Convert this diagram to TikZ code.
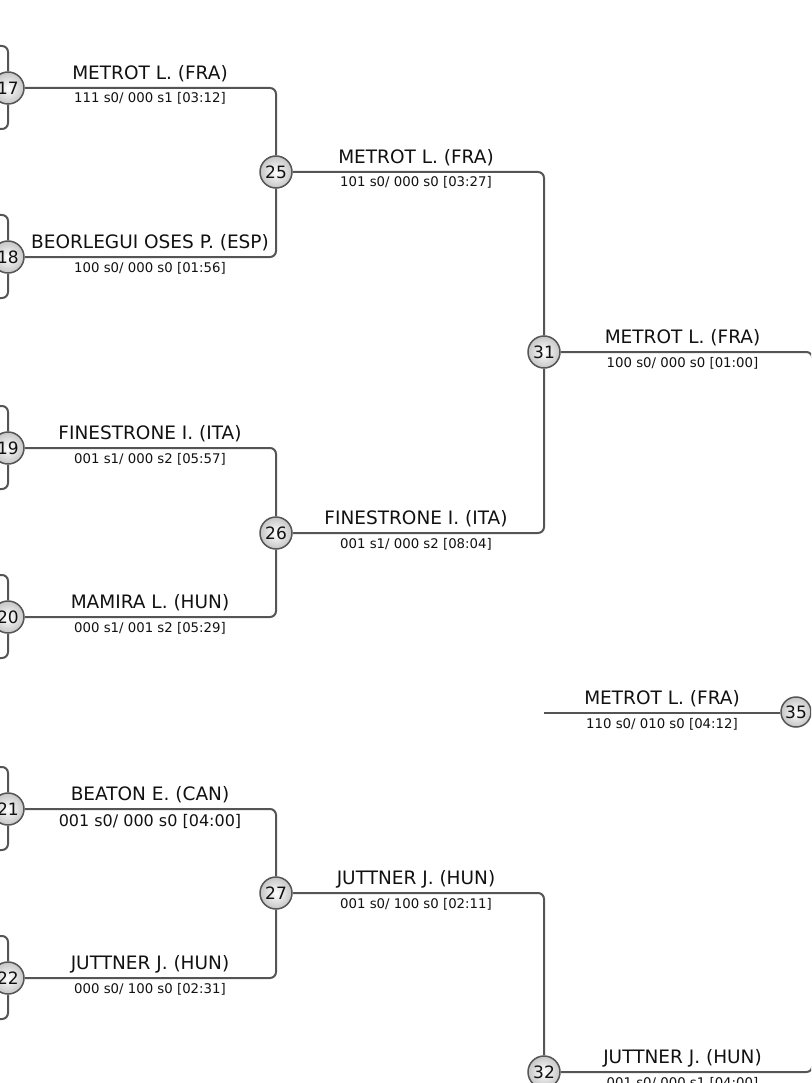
\documentclass[tikz,border=0pt]{standalone}
\usepackage{fontspec}
\setmainfont{DejaVu Sans}
\definecolor{linec}{HTML}{555555}
\definecolor{txt}{HTML}{111111}
\tikzset{
  ln/.style={draw=linec, line width=2pt, rounded corners=6pt},
  mnode/.style={circle, draw=linec, line width=1.5pt, inner sep=0pt, minimum size=32pt,
    inner color=white, outer color=gray!45, font=\fontsize{17}{17}\selectfont, text=txt},
  pname/.style={anchor=base, inner sep=0pt, font=\fontsize{18.5}{18.5}\selectfont, text=txt},
  pscore/.style={anchor=base, inner sep=0pt, font=\fontsize{13.3}{13.3}\selectfont, text=txt},
  pscorebig/.style={pscore, font=\fontsize{16}{16}\selectfont},
}
\begin{document}
\begin{tikzpicture}[x=1pt,y=-1pt]
\clip (0,0) rectangle (811,1083);

% match circles
\node[mnode] (m17) at (8,88) {17};
\node[mnode] (m18) at (8,257) {18};
\node[mnode] (m19) at (8,448) {19};
\node[mnode] (m20) at (8,617) {20};
\node[mnode] (m21) at (8,809) {21};
\node[mnode] (m22) at (8,978) {22};
\node[mnode] (m25) at (276,172) {25};
\node[mnode] (m26) at (276,533) {26};
\node[mnode] (m27) at (276,893) {27};
\node[mnode] (m31) at (544,352) {31};
\node[mnode] (m32) at (544,1072) {32};
\node[mnode, minimum size=30pt] (m35) at (796,712) {35};

% incoming stubs from the left
\coordinate (a17) at (-30,46);  \coordinate (b17) at (-30,129);
\coordinate (a18) at (-30,215); \coordinate (b18) at (-30,298);
\coordinate (a19) at (-30,406); \coordinate (b19) at (-30,489);
\coordinate (a20) at (-30,575); \coordinate (b20) at (-30,658);
\coordinate (a21) at (-30,767); \coordinate (b21) at (-30,850);
\coordinate (a22) at (-30,936); \coordinate (b22) at (-30,1019);
\foreach \m in {17,18,19,20,21,22}{
  \draw[ln] (a\m) -| (m\m);
  \draw[ln] (b\m) -| (m\m);
}

% connectors
\draw[ln] (m17) -| (m25);
\draw[ln] (m18) -| (m25);
\draw[ln] (m19) -| (m26);
\draw[ln] (m20) -| (m26);
\draw[ln] (m21) -| (m27);
\draw[ln] (m22) -| (m27);
\draw[ln] (m25) -| (m31);
\draw[ln] (m26) -| (m31);
\draw[ln] (m27) -| (m32);
\coordinate (fin) at (812.3,712);
\draw[ln] (m31) -| (fin);
\draw[ln] (m32) -| (fin);
\coordinate (s35) at (544,713);
\draw[ln] (s35) -- (s35 -| m35.west);

% labels
\newcommand\mylab[5]{%
  \node[pname] at (#1,#2-8.5) {#3};
  \node[#5] at (#1,#2+15) {#4};}
\mylab{150}{88}{METROT L. (FRA)}{111 s0/ 000 s1 [03:12]}{pscore}
\mylab{150}{257}{BEORLEGUI OSES P. (ESP)}{100 s0/ 000 s0 [01:56]}{pscore}
\mylab{150}{448}{FINESTRONE I. (ITA)}{001 s1/ 000 s2 [05:57]}{pscore}
\mylab{150}{617}{MAMIRA L. (HUN)}{000 s1/ 001 s2 [05:29]}{pscore}
\node[pname] at (150,809-8.5) {BEATON E. (CAN)};
\node[pscorebig] at (150,809+17.5) {001 s0/ 000 s0 [04:00]};
\mylab{150}{978}{JUTTNER J. (HUN)}{000 s0/ 100 s0 [02:31]}{pscore}
\mylab{416}{172}{METROT L. (FRA)}{101 s0/ 000 s0 [03:27]}{pscore}
\mylab{416}{533}{FINESTRONE I. (ITA)}{001 s1/ 000 s2 [08:04]}{pscore}
\mylab{416}{893}{JUTTNER J. (HUN)}{001 s0/ 100 s0 [02:11]}{pscore}
\mylab{682.5}{352}{METROT L. (FRA)}{100 s0/ 000 s0 [01:00]}{pscore}
\mylab{682.5}{1072}{JUTTNER J. (HUN)}{001 s0/ 000 s1 [04:00]}{pscore}
\mylab{662}{713}{METROT L. (FRA)}{110 s0/ 010 s0 [04:12]}{pscore}
\end{tikzpicture}
\end{document}
